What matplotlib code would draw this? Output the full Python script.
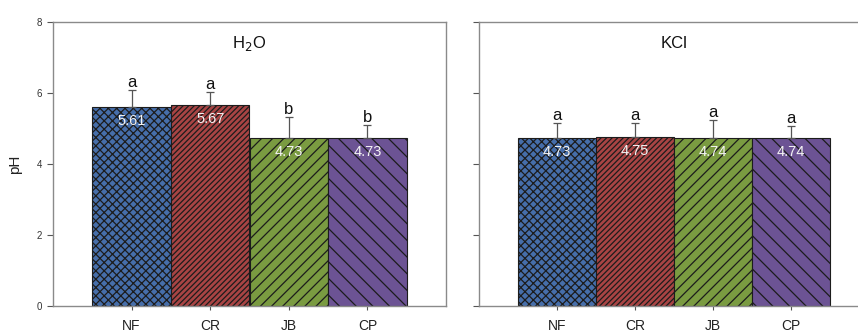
import matplotlib
matplotlib.use("Agg")
import matplotlib.pyplot as plt

plt.rcParams['font.family'] = ['Liberation Sans', 'DejaVu Sans']
plt.rcParams['hatch.linewidth'] = 0.9

# Soil pH by land use, extracted in water and in KCl
categories = ["NF", "CR", "JB", "CP"]
h2o_ph = [5.61, 5.67, 4.73, 4.73]
h2o_err = [0.47, 0.36, 0.59, 0.38]
h2o_groups = ["a", "a", "b", "b"]
kcl_ph = [4.73, 4.75, 4.74, 4.74]
kcl_err = [0.42, 0.40, 0.49, 0.33]
kcl_groups = ["a", "a", "a", "a"]

bar_colors = ["#466eaa", "#a84444", "#7a9b41", "#6c5394"]
bar_hatches = ["xxxx", "//////", "///", "\\\\"]
spine_grey = "#8a8a8a"

W, H = 858, 332
fig = plt.figure(figsize=(W / 100, H / 100), dpi=100)
bottom = (H - 306) / H
height = (306 - 22) / H
ax1 = fig.add_axes([53 / W, bottom, 393 / W, height])
ax2 = fig.add_axes([479 / W, bottom, 390 / W, height])

x = list(range(1, len(categories) + 1))


def draw_panel(ax, values, errs, groups, title, show_labels):
    ax.bar(x, values, width=1.0, color=bar_colors, hatch=bar_hatches,
           edgecolor="#1c1c1c", linewidth=0.8, zorder=2)
    ax.errorbar(x, values, yerr=[[0] * len(values), errs], fmt="none",
                ecolor="#555555", elinewidth=0.9, capsize=3, capthick=0.9,
                zorder=3)
    for xi, v, e, g in zip(x, values, errs, groups):
        ax.annotate(g, (xi, v + e), xytext=(0, 0), textcoords="offset pixels",
                    ha="center", va="bottom", fontsize=12, color="#111111")
        ax.annotate(f"{v:.2f}", (xi, v), xytext=(0, -14),
                    textcoords="offset pixels", ha="center", va="center",
                    fontsize=10.5, color="#f4f4f4", zorder=4)
    ax.set_xlim(0, 5)
    ax.set_ylim(0, 8)
    ax.set_xticks(x)
    ax.set_xticklabels(categories, fontsize=10, color="#222222")
    ax.set_yticks([0, 2, 4, 6, 8])
    ax.text(2.5, 7.4, title, ha="center", va="center", fontsize=12,
            color="#111111")
    for s in ax.spines.values():
        s.set_color(spine_grey)
        s.set_linewidth(1.0)
    ax.tick_params(axis="x", direction="out", length=3, width=0.8,
                   pad=6.5, colors="#555555", labelcolor="#222222")
    ax.tick_params(axis="y", direction="out", length=4, width=0.8,
                   pad=4, colors="#555555", labelcolor="#333333",
                   labelsize=7, labelleft=show_labels)


draw_panel(ax1, h2o_ph, h2o_err, h2o_groups, "H$_2$O", True)
draw_panel(ax2, kcl_ph, kcl_err, kcl_groups, "KCl", False)
ax1.set_ylabel("pH", fontsize=11, color="#222222", labelpad=10)

fig.savefig("out.png", dpi=100)
